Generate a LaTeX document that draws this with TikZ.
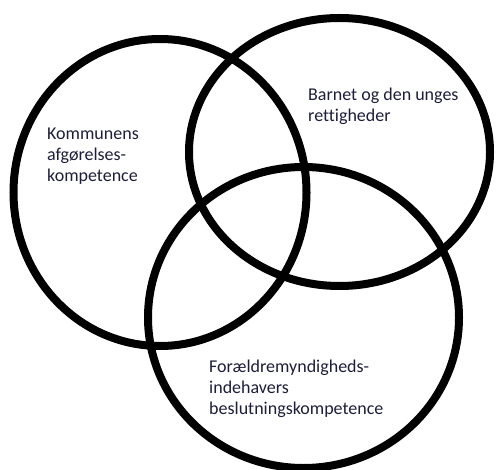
\documentclass[tikz,border=0pt]{standalone}
\usepackage{fontspec}
\setmainfont[Ligatures={NoCommon}]{Carlito}
\definecolor{txt}{RGB}{30,30,60}
\begin{document}
\begin{tikzpicture}[x=1pt,y=-1pt,
  ring/.style={draw=black,line width=8pt},
  lbl/.style={anchor=north west,inner sep=0pt,align=left,text=txt,
    font=\fontsize{18}{21}\selectfont}]
\useasboundingbox (0,0) rectangle (497,470);
\fill[white] (0,0) rectangle (497,470);
\draw[ring] (160,192.5) ellipse [x radius=146.5, y radius=153.5];
\draw[ring] (339.5,152) ellipse [x radius=150.5, y radius=134];
\draw[ring] (303.5,317.5) ellipse [x radius=155.5, y radius=150.5];
\node[lbl] (k) at (47,127.5) {Kommunens\\afgørelses-\\kompetence};
\node[lbl] (b) at (308,88) {Barnet og den unges\\rettigheder};
\node[lbl] (f) at (209,359.5) {Forældremyndigheds-\\indehavers\\beslutningskompetence};
\end{tikzpicture}
\end{document}
